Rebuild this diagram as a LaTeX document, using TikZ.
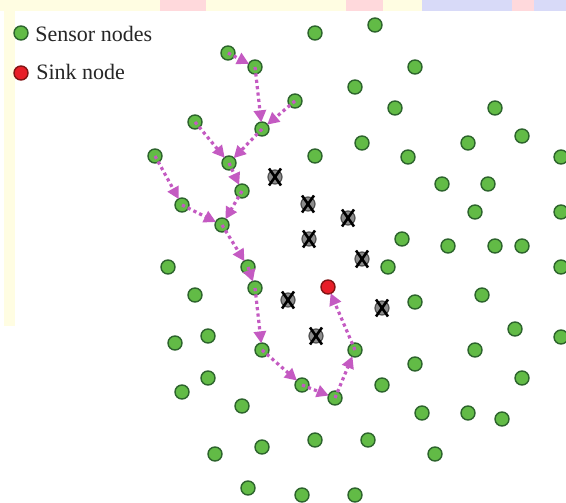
\documentclass[tikz,border=0pt]{standalone}
\usepackage{fontspec}
\setmainfont{Liberation Serif}
\usetikzlibrary{arrows.meta}
\definecolor{sgreen}{RGB}{98,187,70}
\definecolor{sgreenD}{RGB}{45,100,45}
\definecolor{sred}{RGB}{232,30,40}
\definecolor{sredD}{RGB}{130,20,20}
\definecolor{dgray}{RGB}{140,140,140}
\definecolor{dgrayD}{RGB}{80,80,80}
\definecolor{plink}{RGB}{196,90,194}
\definecolor{bgyellow}{RGB}{255,253,226}
\definecolor{bgpink}{RGB}{255,217,220}
\definecolor{bglav}{RGB}{216,218,248}
\tikzset{
  sensor/.style={circle,fill=sgreen,draw=sgreenD,line width=0.7pt,minimum size=7pt,inner sep=0pt},
  sinknode/.style={circle,fill=sred,draw=sredD,line width=0.7pt,minimum size=7pt,inner sep=0pt},
  deadnode/.style={circle,fill=dgray,draw=dgrayD,line width=0.6pt,minimum size=7pt,inner sep=0pt},
  xline/.style={black,line width=1.3pt},
  link/.style={plink,line width=1.6pt,dash pattern=on 1.6pt off 1.6pt,
    -{Triangle[length=6pt,width=6pt]},shorten >=-0.5pt},
  legtext/.style={anchor=west,inner sep=0pt,font=\fontsize{11}{13}\selectfont,text=black!85}
}
\begin{document}
\begin{tikzpicture}[x=0.5pt,y=-0.5pt]
\useasboundingbox (0,0) rectangle (566,502);
\clip (0,0) rectangle (566,502);
\fill[white] (0,0) rectangle (566,502);
% background scan artefacts
\fill[bgyellow] (0,0) rectangle (566,11);
\fill[bgyellow] (4,0) rectangle (15,326);
\fill[bgpink] (160,0) rectangle (206,11);
\fill[bgpink] (346,0) rectangle (383,11);
\fill[bglav] (422,0) rectangle (566,11);
\fill[bgpink] (512,0) rectangle (534,11);
% legend
\node[sensor] (lg) at (21,33) {};
\node[legtext] (lgt) at (35,34) {Sensor nodes};
\node[sinknode] (lr) at (21,73) {};
\node[legtext] (lrt) at (36,72) {Sink node};
% sensor nodes
\foreach \n/\x/\y in {
 1/228/53, 2/255/67, 3/315/33, 4/375/25, 5/415/67, 6/355/87, 7/295/101, 8/262/129,
 9/195/122, 10/395/108, 11/495/108, 12/522/136, 13/155/156, 14/229/163, 15/315/156,
 16/362/143, 17/408/157, 18/468/143, 19/561/157, 20/242/191, 21/442/184, 22/488/184,
 23/182/205, 24/475/212, 25/561/212, 26/222/225, 27/402/239, 28/448/246, 29/495/246,
 30/522/246, 31/168/267, 32/248/267, 33/388/267, 34/561/267, 35/195/295, 36/255/288,
 37/482/295, 38/415/302, 39/208/336, 40/175/343, 41/515/329, 42/561/337, 43/262/350,
 44/355/350, 45/475/350, 46/415/364, 47/208/378, 48/182/392, 49/302/385, 50/382/385,
 51/522/378, 52/335/398, 53/242/406, 54/422/413, 55/468/413, 56/502/419, 57/315/440,
 58/368/440, 59/262/447, 60/215/454, 61/435/454, 62/248/488, 63/302/495, 64/355/495}
 {\node[sensor] (s\n) at (\x,\y) {};}
% failed nodes
\foreach \n/\x/\y in {1/275/177, 2/308/204, 3/348/218, 4/309/239, 5/362/259,
 6/288/300, 7/382/308, 8/316/336}
 {\node[deadnode] (d\n) at (\x,\y) {};
  \draw[xline] ([shift={(-6,-8.5)}]d\n.center) -- ([shift={(6,8.5)}]d\n.center);
  \draw[xline] ([shift={(6,-8.5)}]d\n.center) -- ([shift={(-6,8.5)}]d\n.center);}
% sink
\node[sinknode] (sink) at (328,287) {};
% routing paths
\draw[link] (s1.center) -- (s2);
\draw[link] (s2.center) -- (s8);
\draw[link] (s7.center) -- (s8);
\draw[link] (s8.center) -- (s14);
\draw[link] (s9.center) -- (s14);
\draw[link] (s14.center) -- (s20);
\draw[link] (s20.center) -- (s26);
\draw[link] (s13.center) -- (s23);
\draw[link] (s23.center) -- (s26);
\draw[link] (s26.center) -- (s32);
\draw[link] (s32.center) -- (s36);
\draw[link] (s36.center) -- (s43);
\draw[link] (s43.center) -- (s49);
\draw[link] (s49.center) -- (s52);
\draw[link] (s52.center) -- (s44);
\draw[link] (s44.center) -- (sink);
\end{tikzpicture}
\end{document}
